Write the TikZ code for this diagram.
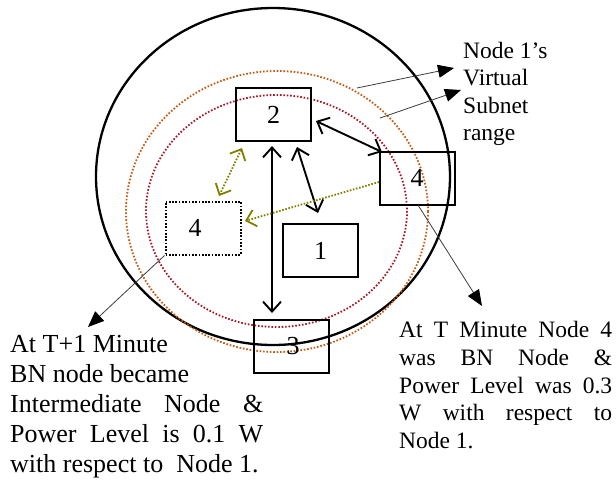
\documentclass[tikz,border=0pt]{standalone}
\usepackage{fontspec}
\setmainfont{Liberation Serif}
\usetikzlibrary{arrows.meta}
\definecolor{rangeouter}{RGB}{197,90,17}
\definecolor{rangeinner}{RGB}{165,25,40}
\definecolor{moveolive}{RGB}{128,128,0}
\definecolor{leadgray}{RGB}{60,60,60}
\begin{document}
\begin{tikzpicture}[x=1pt,y=-1pt,
  box/.style={draw,line width=2pt,minimum width=75pt,minimum height=53pt,
    inner sep=0pt,font=\fontsize{26}{30}\selectfont},
  oldbox/.style={box,dash pattern=on 1.7pt off 1.6pt,line width=2pt},
  rangering/.style={line width=1.8pt,dash pattern=on 1.6pt off 1.8pt},
  link/.style={line width=1.9pt,
    {Straight Barb[length=10pt,width=18pt]}-{Straight Barb[length=10pt,width=18pt]}},
  moveline/.style={draw=moveolive,line width=1.8pt,dash pattern=on 1.6pt off 1.6pt},
  lead/.style={draw=leadgray,line width=0.8pt,
    -{Triangle[length=16pt,width=13pt,color=black]}},
  bigtxt/.style={anchor=base west,inner sep=0pt,font=\fontsize{26}{30}\selectfont},
  smalltxt/.style={anchor=base west,inner sep=0pt,font=\fontsize{23.5}{28}\selectfont}]
\useasboundingbox (0,0) rectangle (616,480);

% transmission range of node 1 and its two virtual subnet rings
\draw[line width=2.3pt] (273,176.5) ellipse [x radius=177, y radius=168.5];
\draw[rangering,rangeouter] (277,211.5) ellipse [x radius=151, y radius=140.5];
\draw[rangering,rangeinner] (276.5,211) ellipse [x radius=130.5, y radius=116];

% nodes
\node[box] (n2) at (273.5,114.5) {2};
\node[box] (n4) at (417,178) {4};
\node[oldbox] (n4b) at (203,228) {4\hspace*{16pt}};
\node[box] (n1) at (320.5,250.5) {1};
\node[box] (n3) at (291,346.5) {3\hspace*{-4pt}};

% link end points
\coordinate (v2) at (272,146);
\coordinate (v3) at (272,313);
\coordinate (d2) at (297,147);
\coordinate (d1) at (318,213);
\coordinate (r2) at (316,121);
\coordinate (r4) at (382,152);
\coordinate (m2) at (242,148);
\coordinate (m4) at (219,196);
\coordinate (s4) at (379,182);
\coordinate (t4) at (245,221);

\draw[link] (v2) -- (v3);
\draw[link] (d2) -- (d1);
\draw[link] (r2) -- (r4);
\draw[moveline,{Straight Barb[length=9pt,width=17pt,color=moveolive]}-{Straight Barb[length=9pt,width=17pt,color=moveolive]}] (m2) -- (m4);
\draw[moveline,-{Straight Barb[length=9pt,width=17pt,color=moveolive]}] (s4) -- (t4);

% callout leaders
\coordinate (ro) at (357,88);
\coordinate (ri) at (380,118);
\coordinate (rtipa) at (454,68);
\coordinate (rtipb) at (461,90);
\coordinate (btip) at (88,327);
\coordinate (atip) at (482,306);
\draw[lead] (ro) -- (rtipa);
\draw[lead] (ri) -- (rtipb);
\draw[lead] (n4b.south west) -- (btip);
\draw[lead] (418,205) -- (atip);

% annotations
\node[smalltxt] (ra1) at (463,58) {Node 1’s};
\node[smalltxt] (ra2) at (463,85) {Virtual};
\node[smalltxt] (ra3) at (463,113) {Subnet};
\node[smalltxt] (ra4) at (463,140) {range};

\node[bigtxt] (bl1) at (10,352) {At T+1 Minute};
\node[bigtxt] (bl2) at (10,382) {BN node became};
\node[bigtxt] (bl3) at (10,412) {\hbox to 253pt{Intermediate\hfill Node\hfill \&}};
\node[bigtxt] (bl4) at (10,442) {\hbox to 253pt{Power\hfill Level\hfill is\hfill 0.1\hfill W}};
\node[bigtxt] (bl5) at (10,472) {with respect to~~Node 1.};

\node[smalltxt] (al1) at (399,337) {\hbox to 213pt{At\hfill T\hfill Minute\hfill Node\hfill 4}};
\node[smalltxt] (al2) at (399,365) {\hbox to 213pt{was\hfill BN\hfill Node\hfill \&}};
\node[smalltxt] (al3) at (399,393) {\hbox to 213pt{Power\hfill Level\hfill was\hfill 0.3}};
\node[smalltxt] (al4) at (399,420) {\hbox to 213pt{W\hfill with\hfill respect\hfill to}};
\node[smalltxt] (al5) at (399,448) {Node 1.};
\end{tikzpicture}
\end{document}
